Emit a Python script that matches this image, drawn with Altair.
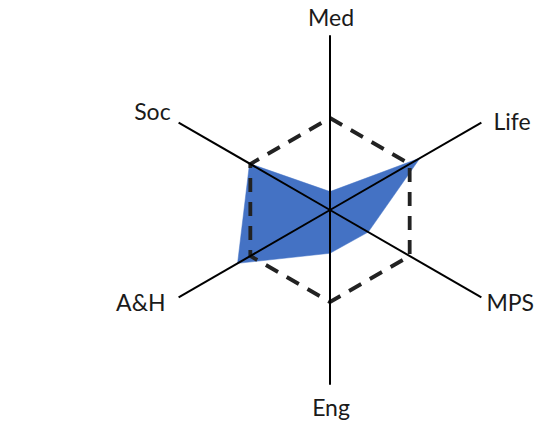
import altair as alt
import pandas as pd

# ---- data ----
categories = ["Med", "Life", "MPS", "Eng", "A&H", "Soc"]
values = [0.20, 1.13, 0.48, 0.47, 1.16, 1.01]
reference = [1.0, 1.0, 1.0, 1.0, 1.0, 1.0]
axis_max = 1.90

# ---- layout constants ----
PAD_TOP = 6
W, H = 541, 423 - PAD_TOP
PX = 92.0                 # pixels per data unit
CX, CY = 322, 202 - PAD_TOP  # centre of radar inside the plot area
x_dom = [-CX / PX, (W - CX) / PX]
y_dom = [-(H - CY) / PX, CY / PX]

n = len(categories)
rows = []
for i in range(n + 1):
    k = i % n
    rows.append({"idx": i, "cat": categories[k], "value": values[k],
                 "ref": reference[k], "amax": axis_max})
df = pd.DataFrame(rows)

base = alt.Chart(df).transform_calculate(
    ang="(90 - 60 * datum.idx) * PI / 180",
    vx="datum.value * cos(datum.ang)",
    vy="datum.value * sin(datum.ang)",
    rx="datum.ref * cos(datum.ang)",
    ry="datum.ref * sin(datum.ang)",
    ax="datum.amax * cos(datum.ang)",
    ay="datum.amax * sin(datum.ang)",
    zero="0",
)

xs = alt.Scale(domain=x_dom, nice=False, zero=False)
ys = alt.Scale(domain=y_dom, nice=False, zero=False)

poly = base.mark_line(fill="#4472C4", stroke="#4472C4", strokeWidth=0.5,
                      fillOpacity=1).encode(
    x=alt.X("vx:Q", scale=xs, axis=None),
    y=alt.Y("vy:Q", scale=ys, axis=None),
    order="idx:O",
)

hexagon = base.mark_line(stroke="#222222", strokeWidth=3.8,
                         strokeDash=[14, 10]).encode(
    x=alt.X("rx:Q", scale=xs, axis=None),
    y=alt.Y("ry:Q", scale=ys, axis=None),
    order="idx:O",
)

axes = base.transform_filter("datum.idx < 6").mark_rule(
    color="#000000", strokeWidth=2).encode(
    x=alt.X("zero:Q", scale=xs, axis=None),
    y=alt.Y("zero:Q", scale=ys, axis=None),
    x2="ax:Q",
    y2="ay:Q",
)


def label(cat, align, baseline, dx, dy):
    return base.transform_filter(
        alt.datum.cat == cat).transform_filter("datum.idx < 6").mark_text(
        align=align, baseline=baseline, dx=dx, dy=dy, font="Lato",
        fontSize=23, color="#1a1a1a").encode(
        x=alt.X("ax:Q", scale=xs, axis=None),
        y=alt.Y("ay:Q", scale=ys, axis=None),
        text="cat:N",
    )


labels = [
    label("Med", "center", "alphabetic", 1, -9),
    label("Life", "left", "middle", 12, 0),
    label("MPS", "left", "top", 5, -4),
    label("Eng", "center", "top", 1, 13),
    label("A&H", "right", "top", -13, -4),
    label("Soc", "right", "bottom", -8, 2),
]

chart = alt.layer(poly, hexagon, axes, *labels).properties(
    width=W, height=H,
    padding={"left": 0, "top": PAD_TOP, "right": 0, "bottom": 0},
    autosize=alt.AutoSizeParams(type="none"),
).configure_view(stroke=None)

chart.save("out.html", embed_options={"renderer": "svg", "actions": False})
